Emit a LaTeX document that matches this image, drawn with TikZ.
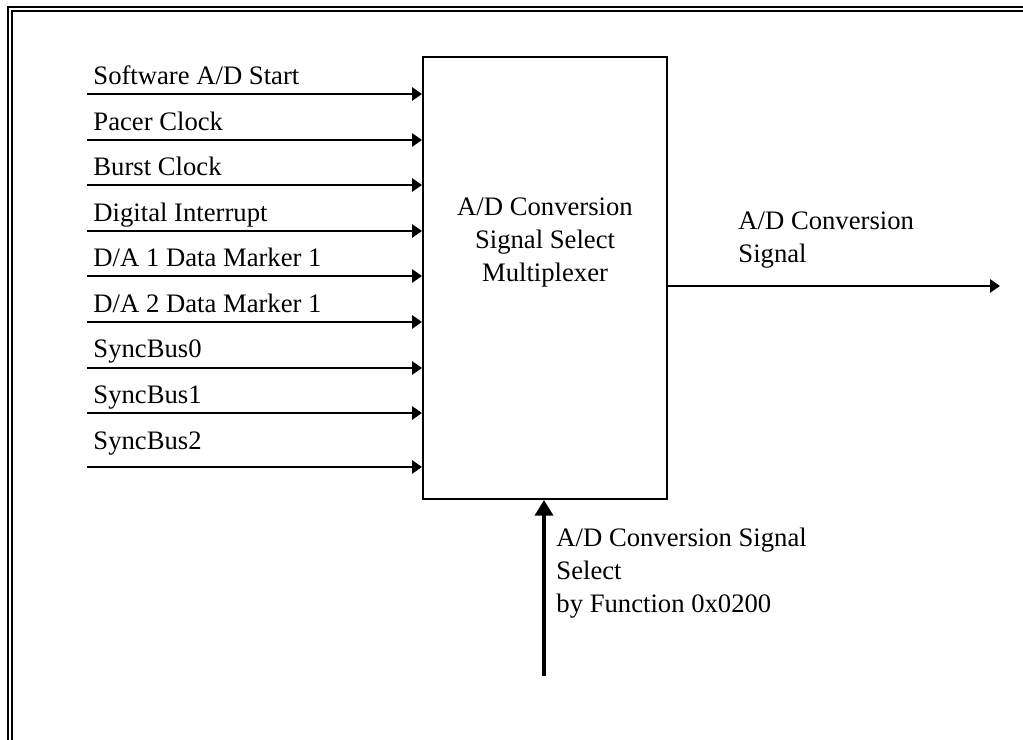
\documentclass[tikz,border=0pt]{standalone}
\usepackage{fontspec}
\setmainfont{Liberation Serif}
\usetikzlibrary{arrows.meta,positioning}

\begin{document}
\begin{tikzpicture}[
    x=0.45pt,y=-0.45pt,
    frame/.style={line width=0.9pt},
    box/.style={rectangle,draw,line width=0.9pt,
                minimum width=109.8pt,minimum height=198.9pt,inner sep=0pt},
    txt/.style={font=\fontsize{12}{15}\selectfont,inner sep=0pt},
    sig/.style={txt,anchor=base west,align=left},
    arr/.style={-{Triangle[length=4.5pt,width=6pt]},line width=0.9pt},
    selarr/.style={-{Triangle[length=7pt,width=8pt]},line width=1.8pt}
  ]
    \useasboundingbox (0,0) rectangle (1023,740);

    % double frame, cut off at right and bottom
    \draw[frame] (8,760) -- (8,7) -- (1040,7);
    \draw[frame] (12,760) -- (12,11) -- (1040,11);

    \node[box] (mux) at (545,278) {};
    % base of a multi-line node = last line
    \node[txt,align=center,anchor=base] (muxtext) at (545,282)
      {A/D Conversion\\Signal Select\\Multiplexer};

    % inputs
    \node[sig] (swstart) at (93,85) {Software A/D Start};
    \coordinate (in1) at (87,94);
    \draw[arr] (in1) -- (in1 -| mux.west);

    \node[sig] (pacer) at (93,131) {Pacer Clock};
    \coordinate (in2) at (87,140);
    \draw[arr] (in2) -- (in2 -| mux.west);

    \node[sig] (burst) at (93,176) {Burst Clock};
    \coordinate (in3) at (87,185);
    \draw[arr] (in3) -- (in3 -| mux.west);

    \node[sig] (digint) at (93,222) {Digital Interrupt};
    \coordinate (in4) at (87,231);
    \draw[arr] (in4) -- (in4 -| mux.west);

    \node[sig] (daone) at (93,267) {D/A 1 Data Marker 1};
    \coordinate (in5) at (87,276);
    \draw[arr] (in5) -- (in5 -| mux.west);

    \node[sig] (datwo) at (93,313) {D/A 2 Data Marker 1};
    \coordinate (in6) at (87,322);
    \draw[arr] (in6) -- (in6 -| mux.west);

    \node[sig] (sync0) at (93,358) {SyncBus0};
    \coordinate (in7) at (87,368);
    \draw[arr] (in7) -- (in7 -| mux.west);

    \node[sig] (sync1) at (93,404) {SyncBus1};
    \coordinate (in8) at (87,413);
    \draw[arr] (in8) -- (in8 -| mux.west);

    \node[sig] (sync2) at (93,450) {SyncBus2};
    \coordinate (in9) at (87,467);
    \draw[arr] (in9) -- (in9 -| mux.west);

    % output
    \node[sig] (outlabel) at (738,263) {A/D Conversion\\Signal};
    \coordinate (out) at (1000,286);
    \draw[arr] (mux.east |- out) -- (out);

    % select
    \node[sig] (sellabel) at (556,613)
      {A/D Conversion Signal\\Select\\by Function 0x0200};
    \coordinate (sel) at (544,676);
    \draw[selarr] (sel) -- (sel |- mux.south);
  \end{tikzpicture}
\end{document}
